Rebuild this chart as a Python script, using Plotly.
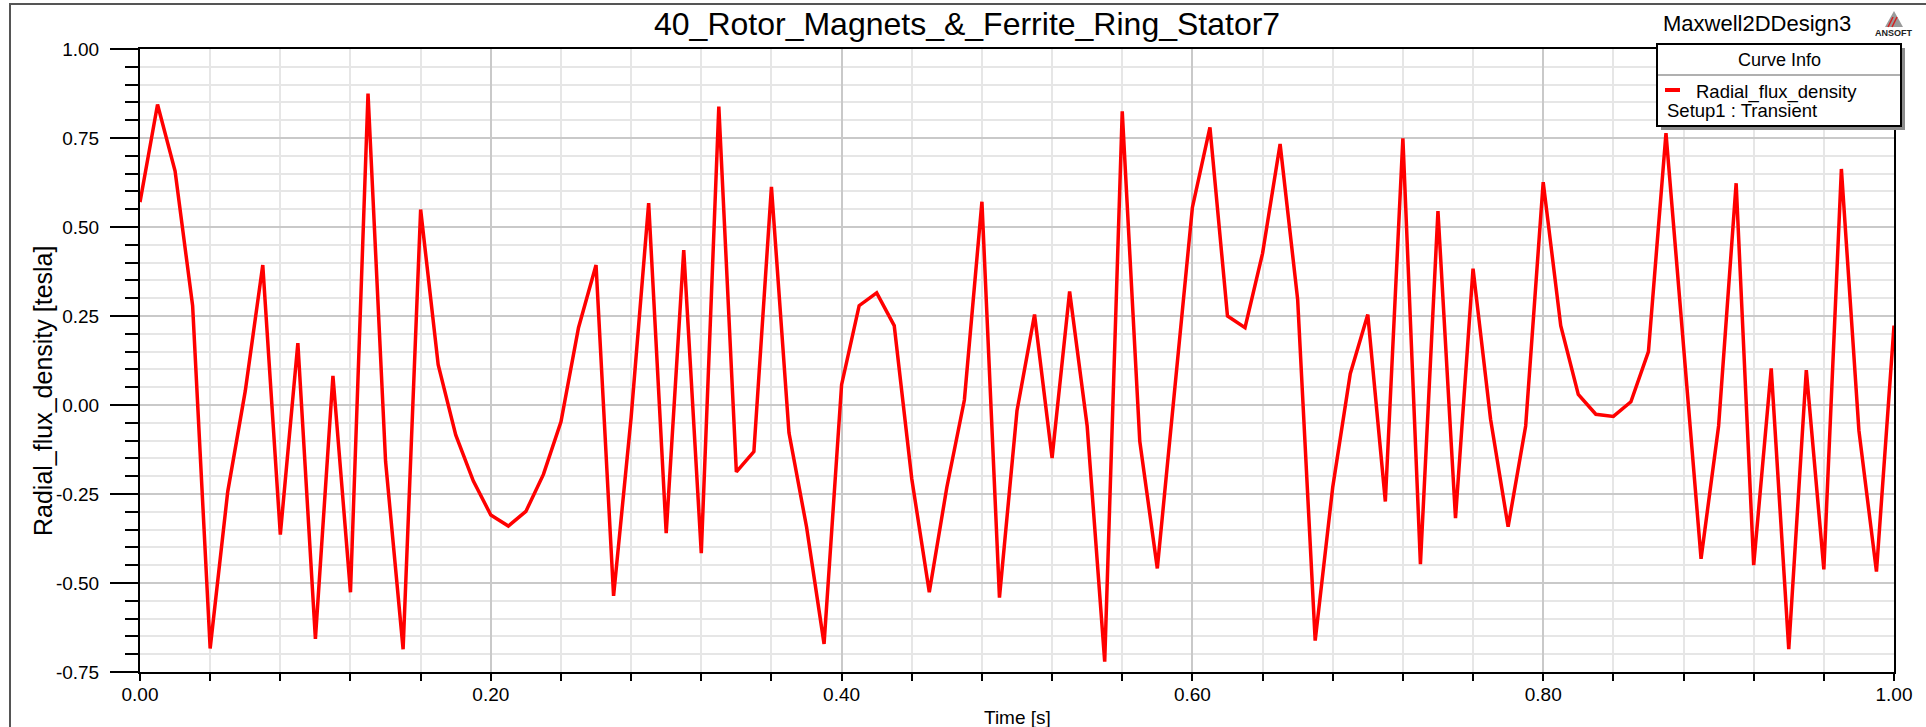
import plotly.graph_objects as go

# ---- data -------------------------------------------------------------
time_s = [round(0.01 * i, 2) for i in range(101)]
radial_flux_density = [
    0.570, 0.844, 0.657, 0.279, -0.684, -0.244, 0.039, 0.393, -0.364, 0.174,
    -0.657, 0.082, -0.526, 0.875, -0.158, -0.686, 0.549, 0.113, -0.084, -0.213,
    -0.309, -0.340, -0.299, -0.195, -0.047, 0.217, 0.393, -0.536, -0.035, 0.567,
    -0.360, 0.435, -0.416, 0.838, -0.188, -0.131, 0.613, -0.078, -0.342, -0.671,
    0.057, 0.279, 0.315, 0.223, -0.207, -0.526, -0.231, 0.014, 0.571, -0.541,
    -0.016, 0.254, -0.149, 0.319, -0.059, -0.721, 0.825, -0.102, -0.459, 0.049,
    0.555, 0.780, 0.250, 0.217, 0.426, 0.733, 0.297, -0.662, -0.231, 0.088,
    0.254, -0.271, 0.749, -0.447, 0.545, -0.318, 0.383, -0.040, -0.342, -0.059,
    0.626, 0.223, 0.030, -0.026, -0.032, 0.009, 0.150, 0.764, 0.166, -0.432,
    -0.059, 0.623, -0.450, 0.103, -0.686, 0.098, -0.462, 0.663, -0.072, -0.468,
    0.223,
]
x_tick_vals = [0.0, 0.2, 0.4, 0.6, 0.8, 1.0]
x_tick_text = ["0.00", "0.20", "0.40", "0.60", "0.80", "1.00"]
y_tick_vals = [-0.75, -0.5, -0.25, 0.0, 0.25, 0.5, 0.75, 1.0]
y_tick_text = ["-0.75", "-0.50", "-0.25", "0.00", "0.25", "0.50", "0.75", "1.00"]

chart_title = "40_Rotor_Magnets_&_Ferrite_Ring_Stator7"
design_name = "Maxwell2DDesign3"
trace_name = "Radial_flux_density"
setup_name = "Setup1 : Transient"
x_title = "Time [s]"
y_title = "Radial_flux_density [tesla]"

# ---- page geometry (pixels) ------------------------------------------
W, H = 1926, 727
L, R, T, B = 140, 1894, 49, 672          # plot area edges
PW, PH = R - L, B - T


def px(x):
    return (x - L) / PW


def py(y):
    return (B - y) / PH


FONT = "Liberation Sans, Arial, sans-serif"
RED = "#ff0000"

fig = go.Figure()
fig.add_trace(go.Scatter(
    x=time_s, y=radial_flux_density, mode="lines", name=trace_name,
    line=dict(color=RED, width=3.5), showlegend=False, hoverinfo="x+y",
))

fig.update_layout(
    width=W, height=H,
    margin=dict(l=L, r=W - R, t=T, b=H - B, pad=0, autoexpand=False),
    paper_bgcolor="white", plot_bgcolor="white",
    font=dict(family=FONT, size=19, color="black"),
    showlegend=False,
)

fig.update_xaxes(
    range=[0, 1], tickvals=x_tick_vals, ticktext=x_tick_text,
    automargin=False,
    showline=True, linecolor="black", linewidth=2, mirror=True,
    ticks="outside", ticklen=7, tickwidth=1.5, tickcolor="black",
    ticklabelstandoff=-3,
    showgrid=True, gridcolor="#c9c9c9", gridwidth=1.5,
    zeroline=False, tickfont=dict(size=19),
    minor=dict(dtick=0.04, tick0=0, ticks="outside", ticklen=7, tickwidth=1.5,
               tickcolor="black", showgrid=True, gridcolor="#e6e6e6", gridwidth=1.5),
)

fig.update_yaxes(
    range=[-0.75, 1], tickvals=y_tick_vals, ticktext=y_tick_text,
    automargin=False,
    showline=True, linecolor="black", linewidth=2, mirror=True,
    ticks="outside", ticklen=28, tickwidth=1.5, tickcolor="black",
    ticklabelstandoff=7,
    showgrid=True, gridcolor="#c9c9c9", gridwidth=1.5,
    zeroline=False, tickfont=dict(size=19),
    minor=dict(dtick=0.05, tick0=0, ticks="outside", ticklen=13, tickwidth=1.5,
               tickcolor="black", showgrid=True, gridcolor="#e6e6e6", gridwidth=1.5),
)

shapes = []
annotations = []

# outer report frame (top and left edges)
shapes.append(dict(type="path", xref="paper", yref="paper",
                   path=f"M {px(10)} {py(H + 5)} L {px(10)} {py(4)} L {px(W + 5)} {py(4)}",
                   line=dict(color="#555555", width=2)))

# axis titles
annotations.append(dict(text=y_title, xref="paper", yref="paper",
                        x=px(43), y=py(391), textangle=-90, showarrow=False,
                        xanchor="center", yanchor="middle", font=dict(size=25)))
annotations.append(dict(text=x_title, xref="paper", yref="paper",
                        x=px(1017), y=py(717), showarrow=False,
                        xanchor="center", yanchor="middle", font=dict(size=19)))

# chart title and design name
annotations.append(dict(text=chart_title, xref="paper", yref="paper",
                        x=px(967), y=py(24), showarrow=False,
                        xanchor="center", yanchor="middle", font=dict(size=32)))
annotations.append(dict(text=design_name, xref="paper", yref="paper",
                        x=px(1757), y=py(23), showarrow=False,
                        xanchor="center", yanchor="middle", font=dict(size=22)))

# ANSOFT badge
shapes.append(dict(type="path", xref="paper", yref="paper",
                   path=f"M {px(1885)} {py(27)} L {px(1894)} {py(11)} L {px(1903)} {py(27)} Z",
                   fillcolor="#9a9a9a", line=dict(width=0)))
for dx in (0, 4):
    shapes.append(dict(type="line", xref="paper", yref="paper",
                       x0=px(1888 + dx), y0=py(27), x1=px(1893 + dx), y1=py(17),
                       line=dict(color="#d42020", width=1.5)))
annotations.append(dict(text="<b>ANSOFT</b>", xref="paper", yref="paper",
                        x=px(1894), y=py(33), showarrow=False,
                        xanchor="center", yanchor="middle",
                        font=dict(size=9, color="#222222")))

# curve info box
bx0, bx1, by0, by1 = 1657, 1901, 44, 126
shapes.append(dict(type="rect", xref="paper", yref="paper",
                   x0=px(bx0 + 4), x1=px(bx1 + 4), y0=py(by0 + 4), y1=py(by1 + 4),
                   fillcolor="#8c8c8c", line=dict(width=0), layer="above"))
shapes.append(dict(type="rect", xref="paper", yref="paper",
                   x0=px(bx0), x1=px(bx1), y0=py(by0), y1=py(by1),
                   fillcolor="white", line=dict(color="black", width=2), layer="above"))
shapes.append(dict(type="line", xref="paper", yref="paper",
                   x0=px(bx0 + 1), x1=px(bx1 - 1), y0=py(75), y1=py(75),
                   line=dict(color="#b0b0b0", width=2), layer="above"))
shapes.append(dict(type="line", xref="paper", yref="paper",
                   x0=px(1665), x1=px(1680), y0=py(90), y1=py(90),
                   line=dict(color=RED, width=4), layer="above"))
annotations.append(dict(text="Curve Info", xref="paper", yref="paper",
                        x=px((bx0 + bx1) / 2), y=py(60), showarrow=False,
                        xanchor="center", yanchor="middle", font=dict(size=18)))
annotations.append(dict(text=trace_name, xref="paper", yref="paper",
                        x=px(1694), y=py(92), showarrow=False,
                        xanchor="left", yanchor="middle", font=dict(size=18.5)))
annotations.append(dict(text=setup_name, xref="paper", yref="paper",
                        x=px(1665), y=py(110), showarrow=False,
                        xanchor="left", yanchor="middle", font=dict(size=18.5)))

fig.update_layout(shapes=shapes, annotations=annotations)
fig.write_html("out.html")
